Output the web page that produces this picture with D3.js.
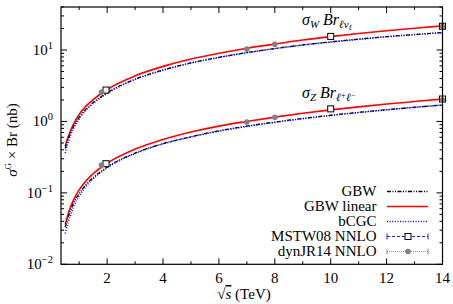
<!DOCTYPE html>
<html>
<head>
<meta charset="utf-8">
<script src="https://cdn.jsdelivr.net/npm/d3@7"></script>
<style>
  body { margin: 0; background: #fff; }
  text { font-family: "Liberation Serif", "DejaVu Serif", serif; fill: #000; }
</style>
</head>
<body>
<svg id="chart" width="453" height="304"></svg>
<script>
// sqrt(s) grid for the curves (TeV)
var energies = [0.5, 0.6, 0.7, 0.8, 1, 1.25, 1.5, 2, 3, 4, 5, 6, 7, 8, 9, 10, 11, 12, 13, 14];

// W -> l nu
var wGbwLinear = [0.45, 0.6, 0.76, 0.92, 1.25, 1.65, 2.02, 2.8, 4.35, 5.9, 7.5, 9.0, 10.6, 12.1, 13.8, 15.4, 17.0, 18.6, 20.2, 21.8];
var wGbw = [0.42, 0.56, 0.7, 0.85, 1.14, 1.5, 1.84, 2.52, 3.9, 5.25, 6.6, 7.9, 9.2, 10.5, 11.8, 13.0, 14.2, 15.4, 16.5, 17.6];
var wBcgc = [0.36, 0.5, 0.65, 0.8, 1.08, 1.44, 1.78, 2.46, 3.85, 5.2, 6.55, 7.85, 9.15, 10.4, 11.7, 12.9, 14.1, 15.3, 16.4, 17.5];

// Z -> l+ l-
var zGbwLinear = [0.036, 0.05, 0.065, 0.08, 0.11, 0.148, 0.185, 0.26, 0.41, 0.56, 0.71, 0.86, 1.0, 1.15, 1.3, 1.45, 1.6, 1.75, 1.9, 2.06];
var zGbw = [0.033, 0.045, 0.058, 0.072, 0.098, 0.131, 0.163, 0.23, 0.36, 0.49, 0.61, 0.74, 0.86, 0.98, 1.1, 1.22, 1.34, 1.46, 1.58, 1.7];
var zBcgc = [0.027, 0.038, 0.05, 0.064, 0.09, 0.124, 0.157, 0.224, 0.355, 0.485, 0.605, 0.73, 0.85, 0.97, 1.09, 1.21, 1.33, 1.45, 1.57, 1.69];

// collinear NNLO points
var mstwX = [1.96, 10, 14];
var mstwW = [2.75, 15.5, 21.5];
var mstwZ = [0.256, 1.5, 2.06];
var dynX = [1.8, 7, 8, 14];
var dynW = [2.58, 10.3, 12.0, 21.3];
var dynZ = [0.245, 0.98, 1.14, 2.0];

var xTicks = [2, 4, 6, 8, 10, 12, 14];
var yTicks = [0.01, 0.1, 1, 10];
var yTickExp = ["\u22122", "\u22121", "0", "1"];

var legendNames = ["GBW", "GBW linear", "bCGC", "MSTW08 NNLO", "dynJR14 NNLO"];

var plotL = 61, plotR = 442.5, plotT = 7, plotB = 264.3;

var svg = d3.select("#chart");

var x = d3.scaleLinear().domain([0.35, 14]).range([plotL, plotR]);
var y = d3.scaleLog().domain([0.01, 40]).range([plotB, plotT]);

// ticks (inward, on all four sides)
var minorX = d3.range(1, 15, 1).filter(function(d) { return d % 2 == 1; });
var minorY = [];
[0.01, 0.1, 1, 10].forEach(function(dec) {
    for (var k = 2; k <= 9; k++) {
        if (dec * k <= 40) minorY.push(dec * k);
    }
});

var ticks = svg.append("g").attr("stroke", "#000").attr("stroke-width", 1);

xTicks.forEach(function(d) {
    ticks.append("line").attr("x1", x(d)).attr("x2", x(d)).attr("y1", plotB).attr("y2", plotB - 6);
    ticks.append("line").attr("x1", x(d)).attr("x2", x(d)).attr("y1", plotT).attr("y2", plotT + 6);
});
minorX.forEach(function(d) {
    ticks.append("line").attr("x1", x(d)).attr("x2", x(d)).attr("y1", plotB).attr("y2", plotB - 3);
    ticks.append("line").attr("x1", x(d)).attr("x2", x(d)).attr("y1", plotT).attr("y2", plotT + 3);
});
yTicks.forEach(function(d) {
    ticks.append("line").attr("x1", plotL).attr("x2", plotL + 6).attr("y1", y(d)).attr("y2", y(d));
    ticks.append("line").attr("x1", plotR).attr("x2", plotR - 6).attr("y1", y(d)).attr("y2", y(d));
});
minorY.forEach(function(d) {
    ticks.append("line").attr("x1", plotL).attr("x2", plotL + 3).attr("y1", y(d)).attr("y2", y(d));
    ticks.append("line").attr("x1", plotR).attr("x2", plotR - 3).attr("y1", y(d)).attr("y2", y(d));
});

// tick labels
svg.selectAll(".xlab")
    .data(xTicks)
    .enter().append("text")
    .attr("class", "xlab")
    .attr("x", function(d) { return x(d); })
    .attr("y", plotB + 19)
    .attr("text-anchor", "middle")
    .style("font-size", "15px")
    .text(function(d) { return d; });

var ylab = svg.selectAll(".ylab")
    .data(yTicks)
    .enter().append("text")
    .attr("class", "ylab")
    .attr("x", plotL - 8)
    .attr("y", function(d) { return y(d) + 5; })
    .attr("text-anchor", "end")
    .style("font-size", "15px");
ylab.append("tspan").text("10");
ylab.append("tspan")
    .attr("dy", -6)
    .style("font-size", "10.5px")
    .text(function(d, i) { return yTickExp[i]; });

// curves
var line = d3.line()
    .x(function(d) { return x(d[0]); })
    .y(function(d) { return y(d[1]); })
    .curve(d3.curveMonotoneX);

function drawCurve(vals, color, width, dash) {
    svg.append("path")
        .datum(energies.map(function(e, i) { return [e, vals[i]]; }))
        .attr("d", line)
        .attr("fill", "none")
        .attr("stroke", color)
        .attr("stroke-width", width)
        .attr("stroke-dasharray", dash);
}

drawCurve(wGbwLinear, "#ff0000", 1.6, null);
drawCurve(zGbwLinear, "#ff0000", 1.6, null);
drawCurve(wGbw, "#000", 1.3, "4,1.5,1,1.5,1,1.5");
drawCurve(zGbw, "#000", 1.3, "4,1.5,1,1.5,1,1.5");
drawCurve(wBcgc, "#0000ff", 1.5, "1,1.6");
drawCurve(zBcgc, "#0000ff", 1.5, "1,1.6");

// data points
function drawSquares(xs, ys) {
    svg.selectAll(null)
        .data(xs)
        .enter().append("rect")
        .attr("x", function(d) { return x(d) - 3; })
        .attr("y", function(d, i) { return y(ys[i]) - 3; })
        .attr("width", 6)
        .attr("height", 6)
        .attr("fill", "#fff")
        .attr("stroke", "#000")
        .attr("stroke-width", 1);
}
function drawDots(xs, ys) {
    svg.selectAll(null)
        .data(xs)
        .enter().append("circle")
        .attr("cx", function(d) { return x(d); })
        .attr("cy", function(d, i) { return y(ys[i]); })
        .attr("r", 2.8)
        .attr("fill", "#808080");
}
drawSquares(mstwX, mstwW);
drawSquares(mstwX, mstwZ);
drawDots(dynX, dynW);
drawDots(dynX, dynZ);

// frame
svg.append("rect")
    .attr("x", plotL).attr("y", plotT)
    .attr("width", plotR - plotL).attr("height", plotB - plotT)
    .attr("fill", "none")
    .attr("stroke", "#000")
    .attr("stroke-width", 1.2);

// curve annotations
var annW = svg.append("text").attr("x", 302).attr("y", 25).style("font-size", "16px").style("font-style", "italic");
annW.append("tspan").text("\u03c3");
annW.append("tspan").attr("dy", 3).style("font-size", "11px").text("W");
annW.append("tspan").attr("dy", -3).text(" Br");
annW.append("tspan").attr("dy", 3).style("font-size", "11px").text("\u2113\u03bd");
annW.append("tspan").attr("dy", 2).style("font-size", "8px").text("\u2113");

var annZ = svg.append("text").attr("x", 302).attr("y", 98).style("font-size", "16px").style("font-style", "italic");
annZ.append("tspan").text("\u03c3");
annZ.append("tspan").attr("dy", 3).style("font-size", "11px").text("Z");
annZ.append("tspan").attr("dy", -3).text(" Br");
annZ.append("tspan").attr("dy", 3).style("font-size", "11px").text("\u2113");
annZ.append("tspan").attr("dy", -3).style("font-size", "8px").text("+");
annZ.append("tspan").attr("dy", 3).style("font-size", "11px").text("\u2113");
annZ.append("tspan").attr("dy", -3).style("font-size", "8px").text("\u2212");

// axis titles
var xt = svg.append("text")
    .attr("x", 244).attr("y", 299)
    .attr("text-anchor", "middle")
    .style("font-size", "15px");
xt.append("tspan").text("\u221a");
xt.append("tspan").style("font-style", "italic").style("text-decoration", "overline").text("s");
xt.append("tspan").text(" (TeV)");

var yt = svg.append("text")
    .attr("transform", "translate(17,140) rotate(-90)")
    .attr("text-anchor", "middle")
    .style("font-size", "15px");
yt.append("tspan").style("font-style", "italic").text("\u03c3");
yt.append("tspan").attr("dy", -6).style("font-size", "9px").text("G");
yt.append("tspan").attr("dy", 6).text(" \u00d7 Br (nb)");

// legend
var legY = [191.5, 206.5, 221.5, 236.5, 251.5];
var lx1 = 387, lx2 = 428, lmid = 408;

svg.selectAll(".legtext")
    .data(legendNames)
    .enter().append("text")
    .attr("class", "legtext")
    .attr("x", 376.5)
    .attr("y", function(d, i) { return legY[i] + 4.5; })
    .attr("text-anchor", "end")
    .style("font-size", "15px")
    .text(function(d) { return d; });

var legStyles = [
    { color: "#000", width: 1.3, dash: "4,1.5,1,1.5,1,1.5" },
    { color: "#ff0000", width: 1.6, dash: null },
    { color: "#0000ff", width: 1.5, dash: "1,1.6" },
    { color: "#0000ff", width: 0.9, dash: "3,2" },
    { color: "#808080", width: 0.9, dash: "1,1" }
];
legStyles.forEach(function(s, i) {
    svg.append("line")
        .attr("x1", lx1).attr("x2", lx2)
        .attr("y1", legY[i]).attr("y2", legY[i])
        .attr("stroke", s.color)
        .attr("stroke-width", s.width)
        .attr("stroke-dasharray", s.dash);
    if (i >= 3) {
        [lx1, lx2].forEach(function(cx) {
            svg.append("line")
                .attr("x1", cx).attr("x2", cx)
                .attr("y1", legY[i] - 3).attr("y2", legY[i] + 3)
                .attr("stroke", s.color)
                .attr("stroke-width", 0.9);
        });
    }
});
svg.append("rect")
    .attr("x", lmid - 3).attr("y", legY[3] - 3)
    .attr("width", 6).attr("height", 6)
    .attr("fill", "#fff").attr("stroke", "#000");
svg.append("circle")
    .attr("cx", lmid).attr("cy", legY[4])
    .attr("r", 2.8).attr("fill", "#808080");
</script>
</body>
</html>
